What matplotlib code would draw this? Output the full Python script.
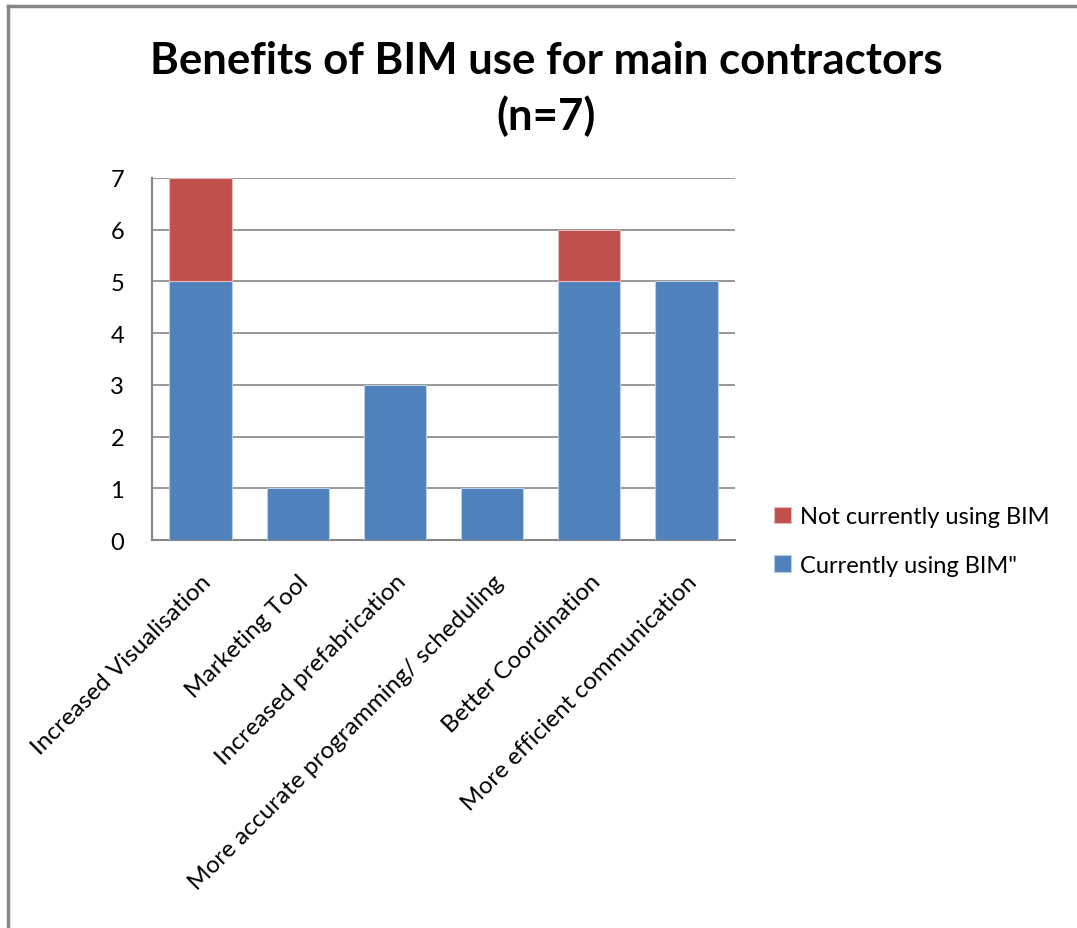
import matplotlib.pyplot as plt
from matplotlib.lines import Line2D
import numpy as np

categories = ['Increased Visualisation', 'Marketing Tool', 'Increased prefabrication',
              'More accurate programming/ scheduling', 'Better Coordination',
              'More efficient communication']
using_bim = [5, 1, 3, 1, 5, 5]
not_using_bim = [2, 0, 0, 0, 1, 0]

blue = '#4F81BD'
red = '#C0504D'
gray = '#868686'

plt.rcParams['font.family'] = ['Lato', 'DejaVu Sans']

fig = plt.figure(figsize=(10.77, 9.29), dpi=100)
W, H = 1077, 929
ax = fig.add_axes([152 / W, 1 - 541 / H, (735 - 152) / W, (541 - 179) / H])

x = np.arange(len(categories))
ax.bar(x, using_bim, width=0.64, color=blue, edgecolor='#b9cde5', linewidth=0.8,
       label='Currently using BIM"', zorder=3)
ax.bar(x, not_using_bim, width=0.64, bottom=using_bim, color=red, edgecolor='#e6b9b8',
       linewidth=[0.8 if v else 0 for v in not_using_bim],
       label='Not currently using BIM', zorder=3)

ax.set_xlim(-0.5, len(categories) - 0.5)
ax.set_ylim(0, 7)
ax.set_yticks(range(0, 8))
ax.yaxis.grid(True, color=gray, linewidth=1.2, zorder=0)
ax.set_axisbelow(True)
for s in ['top', 'right']:
    ax.spines[s].set_visible(False)
for s in ['left', 'bottom']:
    ax.spines[s].set_color(gray)
    ax.spines[s].set_linewidth(1.5)
ax.tick_params(axis='y', length=0, labelsize=17, pad=20)
ax.tick_params(axis='x', length=0, labelsize=17.5, pad=22)
ax.set_xticks(x)
ax.set_xticklabels(categories, rotation=45, ha='right', rotation_mode='anchor')

fig.text(546 / W, 1 - 89 / H, 'Benefits of BIM use for main contractors\n(n=7)',
         ha='center', va='center', fontsize=31.5, fontweight='bold', linespacing=1.4)

handles, labels = ax.get_legend_handles_labels()
fig.legend(handles[::-1], labels[::-1], loc='center left',
           bbox_to_anchor=(753 / W, 1 - 542 / H), frameon=False, fontsize=17,
           handlelength=0.7, handleheight=0.7, handletextpad=0.4, labelspacing=1.15)

# chart frame (left and top edges)
fig.add_artist(Line2D([8 / W, 8 / W], [0, 1 - 7 / H], color=gray, linewidth=2.5))
fig.add_artist(Line2D([8 / W, 1], [1 - 7 / H, 1 - 7 / H], color=gray, linewidth=2.5))

fig.savefig('out.png', dpi=100)
